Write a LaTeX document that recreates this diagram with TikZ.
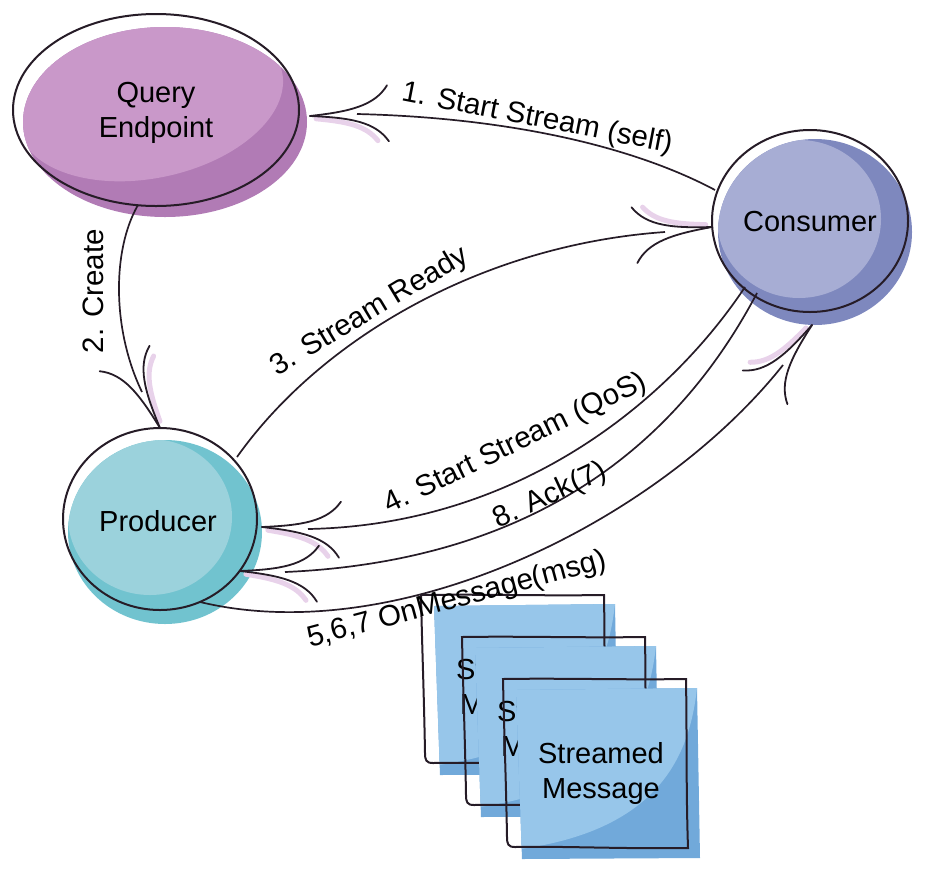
\documentclass[tikz,border=0pt]{standalone}
\usepackage{fontspec}
\setmainfont{Liberation Sans}
\definecolor{linec}{HTML}{261C27}
\definecolor{qelight}{HTML}{C998C9}
\definecolor{qedark}{HTML}{B17BB5}
\definecolor{colight}{HTML}{A7ADD4}
\definecolor{codark}{HTML}{7E88BE}
\definecolor{prlight}{HTML}{9BD2DC}
\definecolor{prdark}{HTML}{71C3CF}
\definecolor{mslight}{HTML}{97C6EA}
\definecolor{msdark}{HTML}{71A9DA}
\definecolor{pinkc}{HTML}{E8D2EA}
\newcommand{\skhead}[2]{%
  \begin{scope}[shift={(#1)}, rotate=-#2]
    \draw[pinkish] (-6,-3) .. controls (-38,-7) and (-56,-12) .. (-67,-27);
    \draw[barb] (0,0) .. controls (-40,-3) and (-65,-8) .. (-78,-28);
    \draw[barb] (0,0) .. controls (-40,3) and (-65,8) .. (-78,28);
  \end{scope}}
\newcommand{\msgsheet}[3]{%
  \begin{scope}[shift={(#1,#2)}]
    \fill[msdark] (13,11) -- (194,9) -- (197,179) -- (19,180) -- cycle;
    \begin{scope}
      \clip (13,11) -- (194,9) -- (197,179) -- (19,180) -- cycle;
      \fill[mslight] (13,11) -- (194,9) .. controls (187,70) and (162,150) .. (17,170) -- cycle;
    \end{scope}
    \draw[outl] (0,0) .. controls (60,-1) and (120,1) .. (183,0)
      .. controls (184,60) and (183,110) .. (185,169)
      .. controls (120,170) and (60,167) .. (12,168)
      .. controls (5,168) and (4,165) .. (4,158)
      .. controls (3,100) and (1,50) .. (0,0) -- cycle;
    \node[txt] (#3) at (98,94) {Streamed\\Message};
  \end{scope}}
\begin{document}
\begin{tikzpicture}[x=1pt,y=-1pt,
  edge/.style={draw=linec,line width=1.7pt},
  outl/.style={draw=linec,line width=2pt},
  barb/.style={draw=linec,line width=1.8pt,line cap=round},
  pinkish/.style={draw=pinkc,line width=5pt,line cap=round},
  txt/.style={font=\fontsize{29}{35}\selectfont, align=center, inner sep=0pt},
  lbl/.style={font=\fontsize{29.5}{34}\selectfont, inner sep=0pt}]
\useasboundingbox (0,0) rectangle (933,876);

% ---------- Query Endpoint ----------
\fill[qedark] (165,122) ellipse [x radius=142, y radius=95];
\begin{scope}
  \clip (165,122) ellipse [x radius=142, y radius=95];
  \fill[qelight, rotate around={12:(150,100)}] (150,100) ellipse [x radius=135, y radius=78];
\end{scope}
\draw[outl] (156,110) ellipse [x radius=143, y radius=96];
\node[txt] (qe) at (156,113) {Query\\Endpoint};

% ---------- Consumer ----------
\fill[codark] (815,232) ellipse [x radius=97, y radius=93];
\begin{scope}
  \clip (815,232) ellipse [x radius=97, y radius=93];
  \fill[colight] (799,219) ellipse [x radius=82, y radius=79];
\end{scope}
\draw[outl] (810,221) ellipse [x radius=98, y radius=91];
\node[txt] (cons) at (810,222) {Consumer};

% ---------- Producer ----------
\fill[prdark] (165,532) ellipse [x radius=97, y radius=92];
\begin{scope}
  \clip (165,532) ellipse [x radius=97, y radius=92];
  \fill[prlight] (150,517) ellipse [x radius=82, y radius=78];
\end{scope}
\draw[outl] (160,519) ellipse [x radius=97, y radius=91];
\node[txt] (prod) at (158,521) {Producer};

% ---------- Streamed messages ----------
\msgsheet{421}{595}{m1}
\msgsheet{462}{637}{m2}
\msgsheet{503}{679}{m3}

% ---------- connector points ----------
\coordinate (s1) at (715,190); \coordinate (e1) at (357,114); \coordinate (t1) at (310,116);
\coordinate (s2) at (138,205); \coordinate (e2) at (142,392); \coordinate (t2) at (160,428);
\coordinate (s3) at (237,457); \coordinate (e3) at (665,232); \coordinate (t3) at (712,227);
\coordinate (s4) at (745,287); \coordinate (e4) at (308,529); \coordinate (t4) at (262,527);
\coordinate (s8) at (757,293); \coordinate (e8) at (285,572); \coordinate (t8) at (240,571);
\coordinate (s5) at (200,602); \coordinate (e5) at (783,365); \coordinate (t5) at (812,325);

% ---------- connectors ----------
\draw[edge] (s1) .. controls (640,150) and (520,118) .. (e1);
\draw[edge] (s2) .. controls (112,250) and (112,330) .. (e2);
\draw[edge] (s3) .. controls (320,340) and (480,245) .. (e3);
\draw[edge] (s4) .. controls (670,400) and (520,525) .. (e4);
\draw[edge] (s8) .. controls (690,420) and (560,560) .. (e8);
\draw[edge] (s5) .. controls (400,650) and (660,520) .. (e5);

\skhead{t1}{178}
\skhead{t2}{63}
\skhead{t3}{-6}
\skhead{t4}{182}
\skhead{t8}{182}
\skhead{t5}{-53}

% ---------- labels ----------
\node[lbl, rotate=-11] (l1) at (537,119) {1. Start Stream (self)};
\node[lbl, rotate=90] (l2) at (93,291) {2. Create};
\node[lbl, rotate=31] (l3) at (370,312) {3. Stream Ready};
\node[lbl, rotate=26] (l4) at (516,444) {4. Start Stream (QoS)};
\node[lbl, rotate=25] (l8) at (550,496) {8. Ack(7)};
\node[lbl, rotate=15] (l5) at (457,600) {5,6,7 OnMessage(msg)};
\end{tikzpicture}
\end{document}
